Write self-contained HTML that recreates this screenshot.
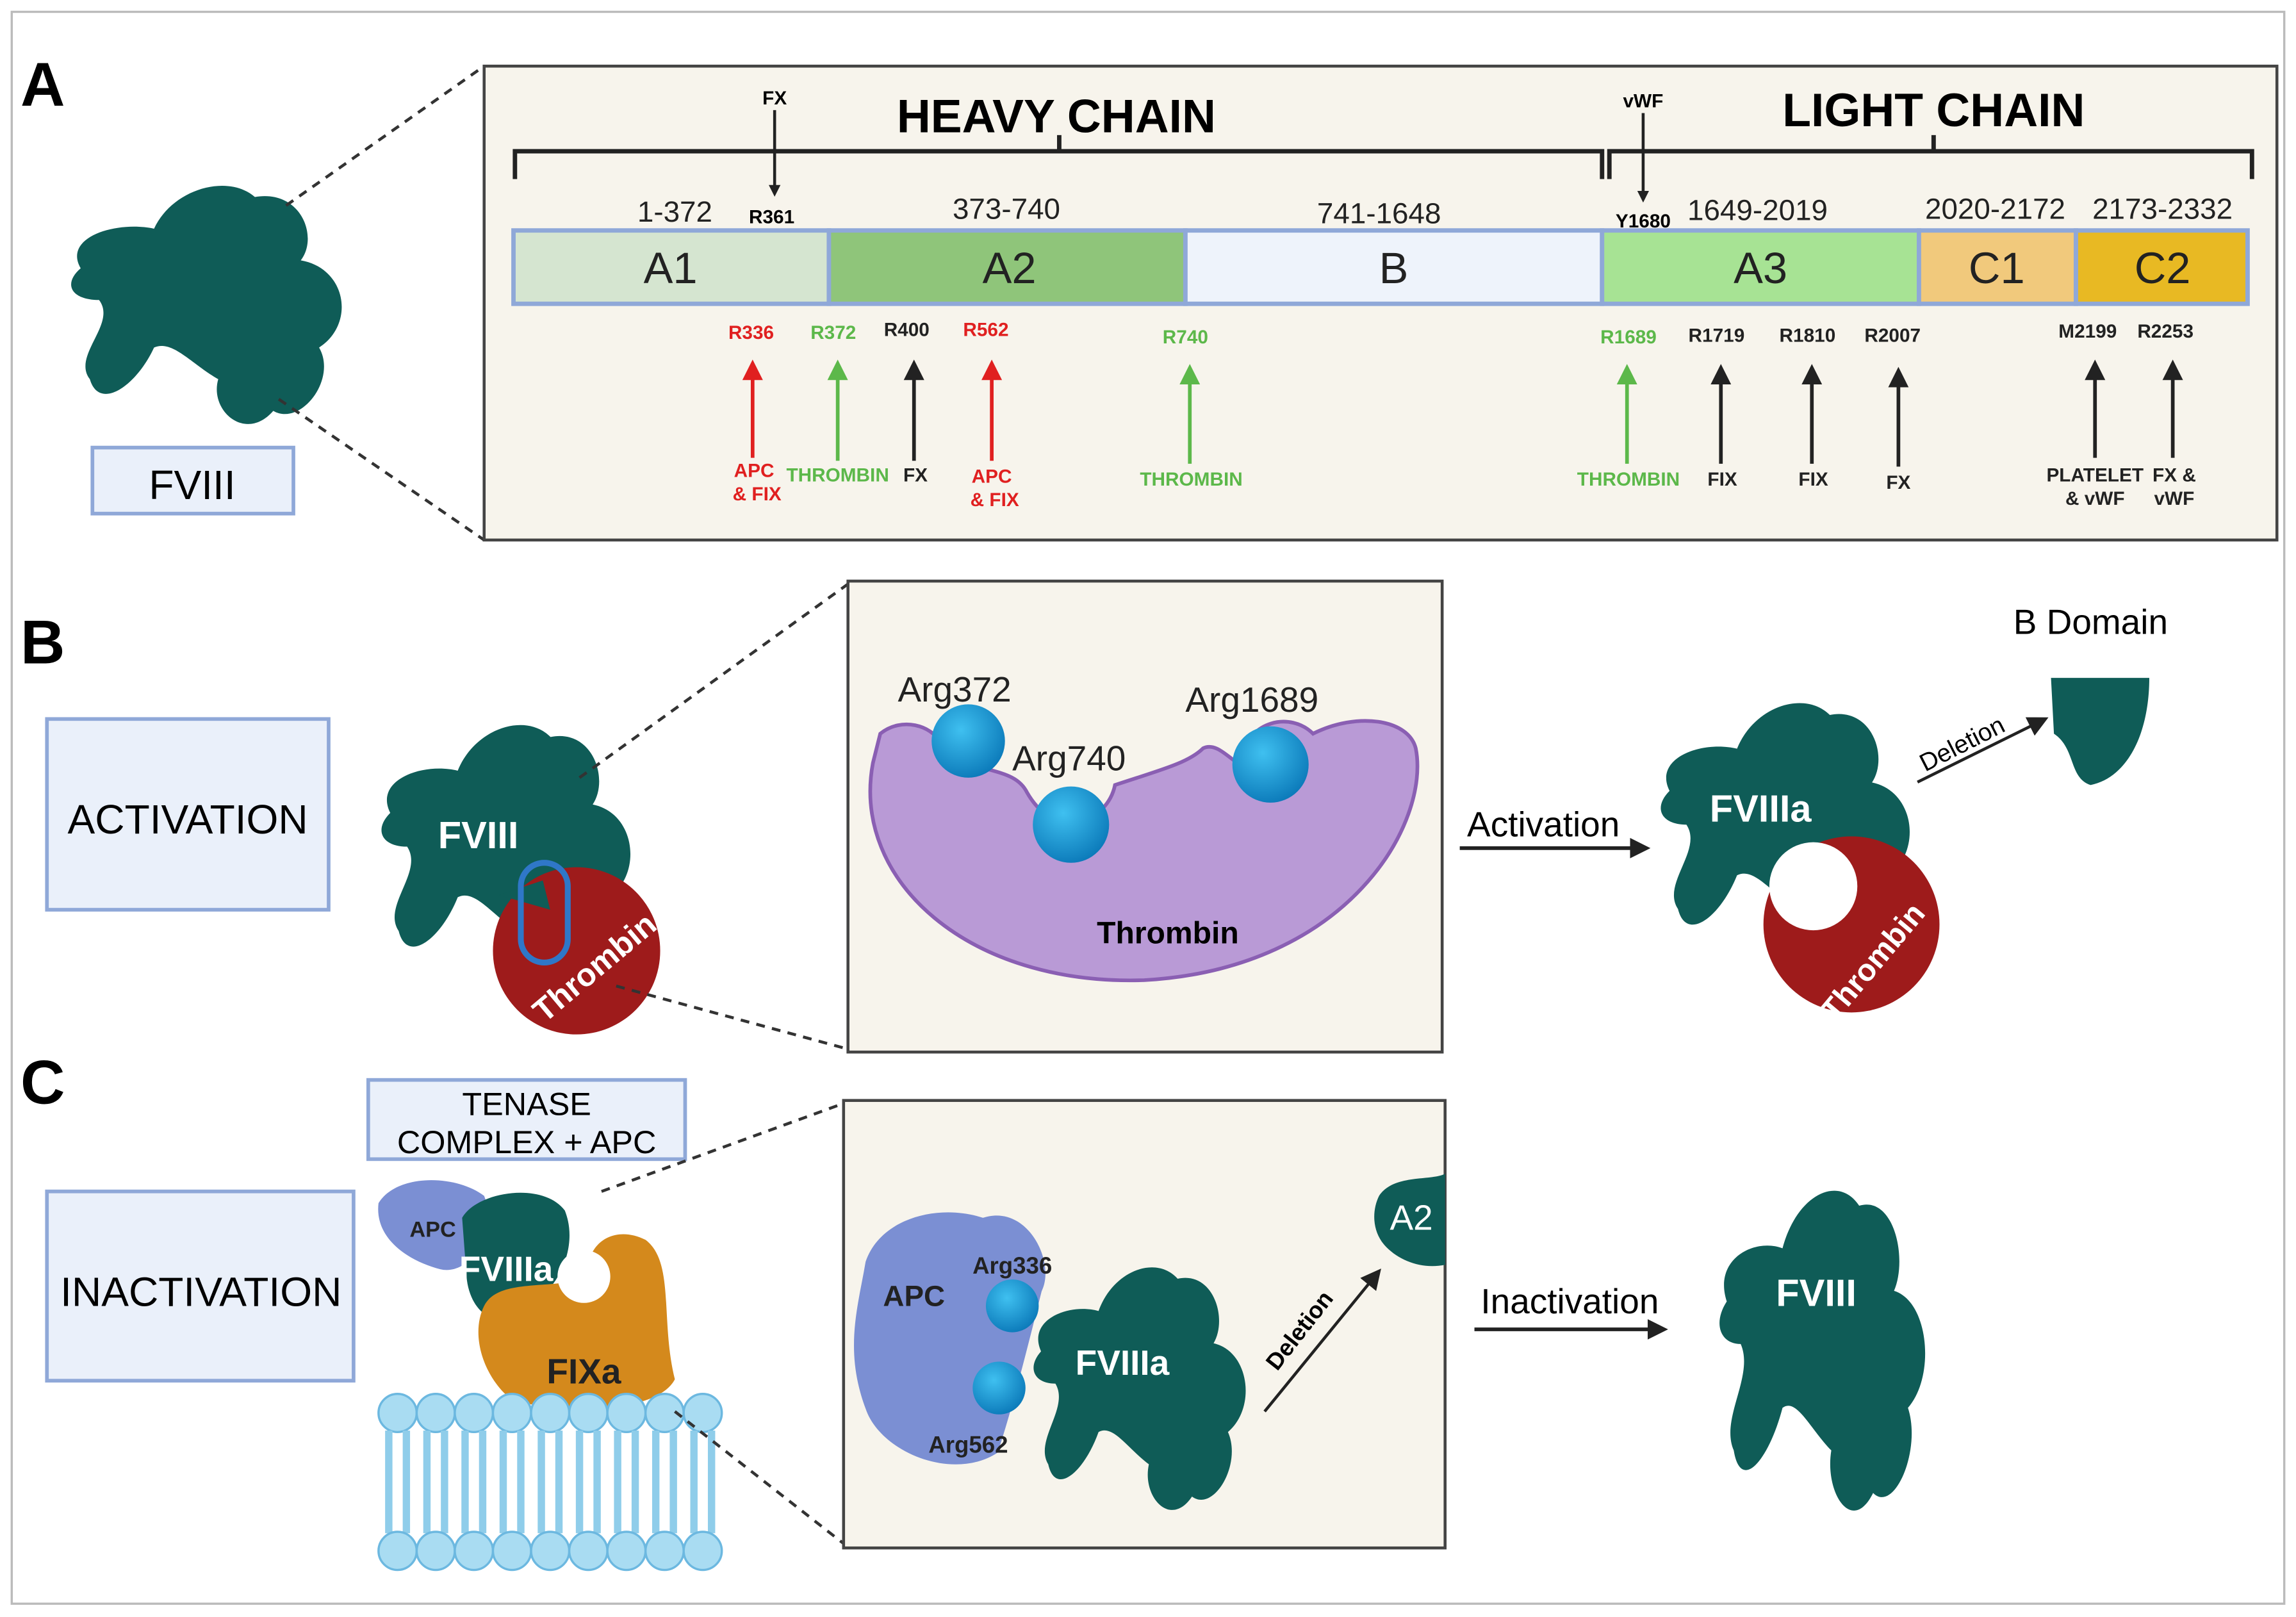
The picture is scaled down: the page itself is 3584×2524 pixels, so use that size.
<!DOCTYPE html>
<html><head><meta charset="utf-8"><style>html,body{margin:0;padding:0;background:#fff}svg{display:block}text{font-family:"Liberation Sans",sans-serif}</style></head><body>
<svg width="3584" height="2524" viewBox="0 0 1565 1102" xmlns="http://www.w3.org/2000/svg">
<defs>
<marker id="ab" markerWidth="8" markerHeight="8" refX="6" refY="4" orient="auto" markerUnits="userSpaceOnUse"><path d="M0,0 L8,4 L0,8 z" fill="#222"/></marker>
<marker id="ak" markerWidth="14" markerHeight="14" refX="7" refY="7" orient="auto" markerUnits="userSpaceOnUse"><path d="M0,0 L14,7 L0,14 z" fill="#222"/></marker>
<marker id="ar" markerWidth="14" markerHeight="14" refX="7" refY="7" orient="auto" markerUnits="userSpaceOnUse"><path d="M0,0 L14,7 L0,14 z" fill="#e02020"/></marker>
<marker id="ag" markerWidth="14" markerHeight="14" refX="7" refY="7" orient="auto" markerUnits="userSpaceOnUse"><path d="M0,0 L14,7 L0,14 z" fill="#5cb84a"/></marker>
<radialGradient id="ball" cx="0.4" cy="0.35" r="0.7"><stop offset="0" stop-color="#3fc0f0"/><stop offset="1" stop-color="#0a78b8"/></radialGradient>
<g id="blob"><path d="M20,60 C10,40 40,30 60,35 C70,10 100,0 115,15 C140,10 150,40 140,55 C165,60 170,95 150,110 C160,130 140,160 125,150 C110,170 90,150 95,130 C80,120 70,105 60,110 C50,135 30,150 25,130 C15,115 40,95 30,80 C15,80 10,70 20,60 Z" fill="#0f5c57"/></g>
</defs>
<rect x="8" y="8" width="1549" height="1085" fill="#fff" stroke="#bbb" stroke-width="1.5"/>
<text x="14" y="72" font-size="42" font-weight="bold">A</text>
<use href="#blob" transform="translate(30,118) scale(1.25,1.08)"/>
<rect x="63" y="305" width="137" height="45" fill="#eaf0fa" stroke="#8fa8d8" stroke-width="2.5"/>
<text x="131" y="340" font-size="28" text-anchor="middle">FVIII</text>
<g stroke="#333" stroke-width="2" stroke-dasharray="6,5"><line x1="195" y1="140" x2="330" y2="45"/><line x1="190" y1="272" x2="330" y2="368"/></g>
<rect x="330" y="45" width="1222" height="323" fill="#f7f4ec" stroke="#444" stroke-width="2"/>
<g stroke="#222" stroke-width="3" fill="none"><path d="M351,122 V103 H1092 V122"/><line x1="722" y1="103" x2="722" y2="92"/><path d="M1097,122 V103 H1535 V122"/><line x1="1318" y1="103" x2="1318" y2="92"/></g>
<text x="720" y="90" font-size="32" font-weight="bold" text-anchor="middle">HEAVY CHAIN</text>
<text x="1318" y="86" font-size="32" font-weight="bold" text-anchor="middle">LIGHT CHAIN</text>
<text x="528" y="71" font-size="13" font-weight="bold" text-anchor="middle">FX</text>
<line x1="528" y1="75" x2="528" y2="132" stroke="#222" stroke-width="2" marker-end="url(#ab)"/>
<text x="526" y="152" font-size="13" font-weight="bold" text-anchor="middle">R361</text>
<text x="1120" y="73" font-size="13" font-weight="bold" text-anchor="middle">vWF</text>
<line x1="1120" y1="77" x2="1120" y2="136" stroke="#222" stroke-width="2" marker-end="url(#ab)"/>
<text x="1120" y="155" font-size="13" font-weight="bold" text-anchor="middle">Y1680</text>
<g font-size="20" text-anchor="middle" fill="#222"><text x="460" y="151">1-372</text><text x="686" y="149">373-740</text><text x="940" y="152">741-1648</text><text x="1198" y="150">1649-2019</text><text x="1360" y="149">2020-2172</text><text x="1474" y="149">2173-2332</text></g>
<g stroke="#8fa8d8" stroke-width="3"><rect x="350" y="157" width="215" height="50" fill="#d5e5d0"/><rect x="565" y="157" width="243" height="50" fill="#8fc57a"/><rect x="808" y="157" width="284" height="50" fill="#eef3fb"/><rect x="1092" y="157" width="216" height="50" fill="#a7e394"/><rect x="1308" y="157" width="107" height="50" fill="#f1c97c"/><rect x="1415" y="157" width="117" height="50" fill="#e8b923"/></g>
<g font-size="30" text-anchor="middle" fill="#222"><text x="457" y="193">A1</text><text x="688" y="193">A2</text><text x="950" y="193">B</text><text x="1200" y="193">A3</text><text x="1361" y="193">C1</text><text x="1474" y="193">C2</text></g>
<g font-size="13" font-weight="bold" text-anchor="middle">
<text x="512" y="231" fill="#e02020">R336</text><text x="568" y="231" fill="#5cb84a">R372</text><text x="618" y="229" fill="#222">R400</text><text x="672" y="229" fill="#e02020">R562</text><text x="808" y="234" fill="#5cb84a">R740</text><text x="1110" y="234" fill="#5cb84a">R1689</text><text x="1170" y="233" fill="#222">R1719</text><text x="1232" y="233" fill="#222">R1810</text><text x="1290" y="233" fill="#222">R2007</text><text x="1423" y="230" fill="#222">M2199</text><text x="1476" y="230" fill="#222">R2253</text>
<text x="514" y="325" fill="#e02020">APC</text><text x="516" y="341" fill="#e02020">&amp; FIX</text><text x="571" y="328" fill="#5cb84a">THROMBIN</text><text x="624" y="328" fill="#222">FX</text><text x="676" y="329" fill="#e02020">APC</text><text x="678" y="345" fill="#e02020">&amp; FIX</text><text x="812" y="331" fill="#5cb84a">THROMBIN</text><text x="1110" y="331" fill="#5cb84a">THROMBIN</text><text x="1174" y="331" fill="#222">FIX</text><text x="1236" y="331" fill="#222">FIX</text><text x="1294" y="333" fill="#222">FX</text><text x="1428" y="328" fill="#222">PLATELET</text><text x="1428" y="344" fill="#222">&amp; vWF</text><text x="1482" y="328" fill="#222">FX &amp;</text><text x="1482" y="344" fill="#222">vWF</text></g>
<g stroke-width="2.5">
<line x1="513" y1="312" x2="513" y2="252" stroke="#e02020" marker-end="url(#ar)"/><line x1="571" y1="314" x2="571" y2="252" stroke="#5cb84a" marker-end="url(#ag)"/><line x1="623" y1="314" x2="623" y2="252" stroke="#222" marker-end="url(#ak)"/><line x1="676" y1="314" x2="676" y2="252" stroke="#e02020" marker-end="url(#ar)"/><line x1="811" y1="316" x2="811" y2="255" stroke="#5cb84a" marker-end="url(#ag)"/><line x1="1109" y1="316" x2="1109" y2="255" stroke="#5cb84a" marker-end="url(#ag)"/><line x1="1173" y1="316" x2="1173" y2="255" stroke="#222" marker-end="url(#ak)"/><line x1="1235" y1="316" x2="1235" y2="255" stroke="#222" marker-end="url(#ak)"/><line x1="1294" y1="318" x2="1294" y2="257" stroke="#222" marker-end="url(#ak)"/><line x1="1428" y1="312" x2="1428" y2="252" stroke="#222" marker-end="url(#ak)"/><line x1="1481" y1="312" x2="1481" y2="252" stroke="#222" marker-end="url(#ak)"/></g>
<text x="14" y="452" font-size="42" font-weight="bold">B</text>
<rect x="32" y="490" width="192" height="130" fill="#eaf0fa" stroke="#8fa8d8" stroke-width="2.5"/>
<text x="128" y="568" font-size="28" text-anchor="middle">ACTIVATION</text>
<use href="#blob" transform="translate(243,485) scale(1.15,1.15)"/>
<circle cx="393" cy="648" r="57" fill="#9e1b1b"/>
<path d="M340,610 L375,620 L370,600 Z" fill="#0f5c57"/>
<rect x="355" y="588" width="32" height="68" rx="16" fill="none" stroke="#2f77c8" stroke-width="4"/>
<text x="326" y="578" font-size="26" font-weight="bold" fill="#fff" text-anchor="middle">FVIII</text>
<text x="410" y="665" font-size="22" font-weight="bold" fill="#fff" text-anchor="middle" transform="rotate(-40 410 665)">Thrombin</text>
<g stroke="#333" stroke-width="2" stroke-dasharray="6,5"><line x1="395" y1="530" x2="578" y2="398"/><line x1="420" y1="672" x2="578" y2="715"/></g>
<rect x="578" y="396" width="405" height="321" fill="#f7f4ec" stroke="#444" stroke-width="2"/>
<path d="M600,500 C615,488 635,495 640,505 C660,530 690,520 700,540 C720,575 755,560 760,535 C790,525 810,520 820,510 C830,505 840,520 845,520 C850,490 880,485 895,500 C925,485 960,490 965,510 C975,560 920,660 780,668 C660,672 580,600 595,520 Z" fill="#b99ad6" stroke="#8a5fb3" stroke-width="2.5"/>
<circle cx="660" cy="505" r="25" fill="url(#ball)"/><circle cx="730" cy="562" r="26" fill="url(#ball)"/><circle cx="866" cy="521" r="26" fill="url(#ball)"/>
<g font-size="24" fill="#222"><text x="612" y="478">Arg372</text><text x="690" y="525">Arg740</text><text x="808" y="485">Arg1689</text></g>
<text x="796" y="643" font-size="21" font-weight="bold" text-anchor="middle">Thrombin</text>
<text x="1052" y="570" font-size="24" text-anchor="middle">Activation</text>
<line x1="995" y1="578" x2="1118" y2="578" stroke="#222" stroke-width="2.5" marker-end="url(#ak)"/>
<use href="#blob" transform="translate(1115,470) scale(1.15,1.15)"/>
<circle cx="1262" cy="630" r="60" fill="#9e1b1b"/><circle cx="1236" cy="604" r="30" fill="#fff"/>
<text x="1200" y="560" font-size="26" font-weight="bold" fill="#fff" text-anchor="middle">FVIIIa</text>
<text x="1282" y="660" font-size="21" font-weight="bold" fill="#fff" text-anchor="middle" transform="rotate(-50 1282 660)">Thrombin</text>
<text x="1425" y="432" font-size="24" text-anchor="middle">B Domain</text>
<path d="M1398,462 H1465 C1465,500 1450,530 1425,535 C1410,530 1415,510 1400,500 Z" fill="#0f5c57"/>
<line x1="1307" y1="533" x2="1390" y2="492" stroke="#222" stroke-width="2" marker-end="url(#ak)"/>
<text x="1340" y="512" font-size="17" text-anchor="middle" transform="rotate(-27 1340 512)">Deletion</text>
<text x="14" y="752" font-size="42" font-weight="bold">C</text>
<rect x="32" y="812" width="209" height="129" fill="#eaf0fa" stroke="#8fa8d8" stroke-width="2.5"/>
<text x="137" y="890" font-size="28" text-anchor="middle">INACTIVATION</text>
<rect x="251" y="736" width="216" height="54" fill="#eaf0fa" stroke="#8fa8d8" stroke-width="2.5"/>
<text x="359" y="760" font-size="22" text-anchor="middle">TENASE</text><text x="359" y="786" font-size="22" text-anchor="middle">COMPLEX + APC</text>
<path d="M258,820 C270,800 310,800 330,815 C340,840 320,870 300,865 C280,860 255,845 258,820 Z" fill="#7b8fd3"/>
<path d="M315,830 C325,812 370,805 385,825 C395,850 380,880 360,890 C340,910 320,895 318,870 Z" fill="#0f5c57"/>
<path d="M330,890 C340,870 380,880 400,870 C400,845 420,835 440,845 C460,860 450,900 460,940 C450,960 400,965 350,955 C330,940 320,910 330,890 Z" fill="#d4891c"/>
<circle cx="398" cy="870" r="18" fill="#fff"/>
<text x="295" y="843" font-size="15" font-weight="bold" fill="#222" text-anchor="middle">APC</text>
<text x="345" y="873" font-size="24" font-weight="bold" fill="#fff" text-anchor="middle">FVIIIa</text>
<text x="398" y="943" font-size="24" font-weight="bold" fill="#222" text-anchor="middle">FIXa</text>
<g fill="#a9dcf2" stroke="#6cb8e0" stroke-width="1.5">
<g id="lip"><circle cx="271" cy="963" r="13"/><path d="M265,975 V1045 M277,975 V1045" fill="none" stroke="#8fcdea" stroke-width="5"/><circle cx="271" cy="1057" r="13"/></g>
<use href="#lip" x="26"/><use href="#lip" x="52"/><use href="#lip" x="78"/><use href="#lip" x="104"/><use href="#lip" x="130"/><use href="#lip" x="156"/><use href="#lip" x="182"/><use href="#lip" x="208"/></g>
<g stroke="#333" stroke-width="2" stroke-dasharray="6,5"><line x1="410" y1="812" x2="575" y2="752"/><line x1="460" y1="962" x2="575" y2="1052"/></g>
<rect x="575" y="750" width="410" height="305" fill="#f7f4ec" stroke="#444" stroke-width="2"/>
<path d="M590,860 C600,830 640,820 670,830 C700,820 720,860 710,880 C700,920 690,960 680,990 C650,1010 600,990 590,960 C575,920 585,890 590,860 Z" fill="#7b8fd3"/>
<use href="#blob" transform="translate(690,855) scale(0.98,1.1)"/>
<circle cx="690" cy="890" r="18" fill="url(#ball)"/><circle cx="681" cy="946" r="18" fill="url(#ball)"/>
<text x="623" y="890" font-size="20" font-weight="bold" fill="#222" text-anchor="middle">APC</text>
<text x="690" y="868" font-size="16" font-weight="bold" fill="#222" text-anchor="middle">Arg336</text>
<text x="660" y="990" font-size="16" font-weight="bold" fill="#222" text-anchor="middle">Arg562</text>
<text x="765" y="937" font-size="24" font-weight="bold" fill="#fff" text-anchor="middle">FVIIIa</text>
<path d="M940,815 C950,800 975,805 985,800 V862 C970,865 955,860 945,850 C935,840 935,825 940,815 Z" fill="#0f5c57"/>
<text x="962" y="838" font-size="24" fill="#fff" text-anchor="middle">A2</text>
<line x1="862" y1="962" x2="937" y2="870" stroke="#222" stroke-width="2" marker-end="url(#ak)"/>
<text x="890" y="910" font-size="16" font-weight="bold" text-anchor="middle" transform="rotate(-52 890 910)">Deletion</text>
<text x="1070" y="895" font-size="24" text-anchor="middle">Inactivation</text>
<line x1="1005" y1="906" x2="1130" y2="906" stroke="#222" stroke-width="2.5" marker-end="url(#ak)"/>
<use href="#blob" transform="translate(1158,800) scale(0.95,1.45)"/>
<text x="1238" y="890" font-size="26" font-weight="bold" fill="#fff" text-anchor="middle">FVIII</text>
</svg>
</body></html>
